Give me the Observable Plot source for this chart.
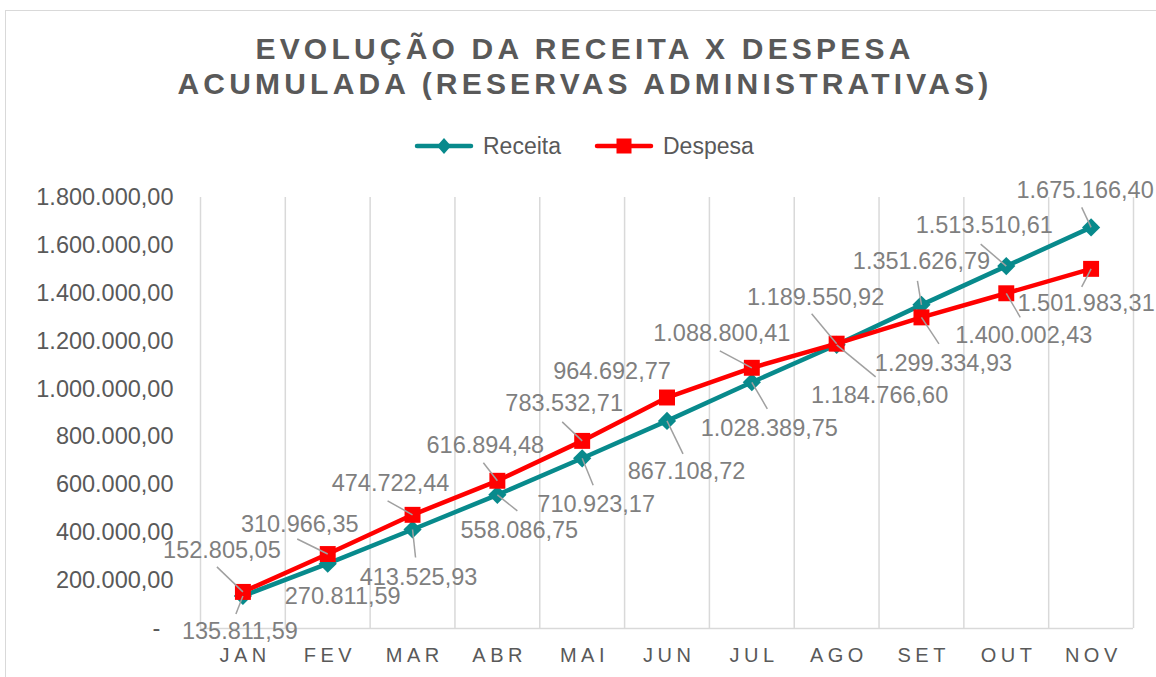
<!DOCTYPE html>
<html>
<head>
<meta charset="utf-8">
<script src="https://cdn.jsdelivr.net/npm/d3@7"></script>
<script src="https://cdn.jsdelivr.net/npm/@observablehq/plot@0.6"></script>
<style>
  html, body { margin: 0; padding: 0; background: #fff; }
  body { width: 1156px; height: 677px; position: relative; overflow: hidden; font-family: "Liberation Sans", Arial, sans-serif; }
  #frame { position: absolute; left: 5px; top: 10px; width: 1200px; height: 720px; border: 1.5px solid #d9d9d9; box-sizing: border-box; }
  #title { position: absolute; left: 0px; top: 31px; width: 1170px; text-align: center; font-weight: bold; font-size: 30px; line-height: 35px; letter-spacing: 4.2px; color: #595959; }
  #legend { position: absolute; left: 0; top: 125px; }
  #chart { position: absolute; left: 0; top: 170px; }
</style>
</head>
<body>
<div id="frame"></div>
<div id="title">EVOLUÇÃO DA RECEITA X DESPESA<br>ACUMULADA (RESERVAS ADMINISTRATIVAS)</div>
<div id="legend"></div>
<div id="chart"></div>
<script>
// ---- data ----
const months = ["JAN", "FEV", "MAR", "ABR", "MAI", "JUN", "JUL", "AGO", "SET", "OUT", "NOV"];
const receita = [135811.59, 270811.59, 413525.93, 558086.75, 710923.17, 867108.72, 1028389.75, 1184766.60, 1351626.79, 1513510.61, 1675166.40];
const despesa = [152805.05, 310966.35, 474722.44, 616894.48, 783532.71, 964692.77, 1088800.41, 1189550.92, 1299334.93, 1400002.43, 1501983.31];
const yTicks = [0, 200000, 400000, 600000, 800000, 1000000, 1200000, 1400000, 1600000, 1800000];
const seriesNames = ["Receita", "Despesa"];

// ---- label placement (pixel offsets from each point) ----
const receitaLabelDx = [-3, 15, 6, 22, 14, 19.5, 17.5, 43, 0, -22, -6];
const receitaLabelDy = [35, 33, 48, 36, 46, 51, 46.5, 51, -43, -40.5, -37];
const receitaLeadDx  = [-7, null, 3, 20, 11, 16, 15.5, 39, -4, -25.6, -9.4];
const receitaLeadDy  = [18, null, 28, 16, 27, 33, 26.5, 32, -24, -22, -20];
const despesaLabelDx = [-21, -28, -22, -12, -18, -55, -30, -21, 22, 17.5, -5];
const despesaLabelDy = [-41, -30, -31, -35, -37, -26, -34, -46.5, 46.5, 42, 35];
const despesaLeadDx  = [-26, -30.5, -25, -14, -20, null, -32, -25, 17.5, 14, -9.4];
const despesaLeadDy  = [-25, -15, -14, -18, -19, null, -17, -30, 26.5, 24, 18];

// ---- styling ----
const teal = "#088a8c";
const red = "#ff0000";
const axisColor = "#595959";
const labelColor = "#7f7f7f";
const gridColor = "#d9d9d9";
const font = '"Liberation Sans", Arial, sans-serif';

const W = 1156, H = 507, mL = 200, mR = 23, mT = 27, mB = 49;
const yMax = yTicks[yTicks.length - 1];
const kx = (W - mL - mR) / months.length;   // px per category
const ky = (H - mT - mB) / yMax;            // px per unit

const ptBR = d3.formatLocale({decimal: ",", thousands: ".", grouping: [3], currency: ["R$", ""]});
const fmt = ptBR.format(",.2f");

const rows = months.map((m, i) => ({i, m, receita: receita[i], despesa: despesa[i]}));
const boundaries = d3.range(months.length + 1).map(i => i - 0.5);

function labelData(values, ldx, ldy) {
  return values.map((v, i) => ({i, v, x: i + ldx[i] / kx, y: v - ldy[i] / ky, text: fmt(v)}));
}
function leadData(values, ldx, ldy) {
  return values.map((v, i) => ({i, v, dx: ldx[i], dy: ldy[i]}))
    .filter(d => d.dx != null)
    .map(d => ({x1: d.i + d.dx / kx, y1: d.v - d.dy / ky, x2: d.i, y2: d.v}));
}

const chart = Plot.plot({
  width: W, height: H,
  marginLeft: mL, marginRight: mR, marginTop: mT, marginBottom: mB,
  style: {fontFamily: font, color: axisColor, background: "transparent", overflow: "visible"},
  x: {domain: [-0.5, months.length - 0.5]},
  y: {domain: [0, yMax]},
  marks: [
    Plot.ruleX(boundaries, {stroke: gridColor, strokeWidth: 1.5}),
    Plot.ruleY([0], {stroke: gridColor, strokeWidth: 1.5}),
    Plot.axisY({ticks: yTicks, tickSize: 0, tickPadding: 27, fontSize: 23.5,
      tickFormat: d => d === 0 ? "-\u00a0\u00a0" : fmt(d)}),
    Plot.axisX({ticks: d3.range(months.length), tickSize: 0, tickPadding: 19, fontSize: 20,
      tickFormat: i => months[i]}),
    Plot.lineY(rows, {x: "i", y: "receita", stroke: teal, strokeWidth: 4.5}),
    Plot.dot(rows, {x: "i", y: "receita", symbol: "diamond2", r: 8.2, fill: teal}),
    Plot.lineY(rows, {x: "i", y: "despesa", stroke: red, strokeWidth: 4.5}),
    Plot.dot(rows, {x: "i", y: "despesa", symbol: "square", r: 9, fill: red}),
    Plot.link(leadData(receita, receitaLeadDx, receitaLeadDy), {x1: "x1", y1: "y1", x2: "x2", y2: "y2", stroke: "#a0a0a0", strokeWidth: 1.5}),
    Plot.link(leadData(despesa, despesaLeadDx, despesaLeadDy), {x1: "x1", y1: "y1", x2: "x2", y2: "y2", stroke: "#a0a0a0", strokeWidth: 1.5}),
    Plot.text(labelData(receita, receitaLabelDx, receitaLabelDy), {x: "x", y: "y", text: "text", fill: labelColor, fontSize: 23.5, textAnchor: "middle", lineAnchor: "middle"}),
    Plot.text(labelData(despesa, despesaLabelDx, despesaLabelDy), {x: "x", y: "y", text: "text", fill: labelColor, fontSize: 23.5, textAnchor: "middle", lineAnchor: "middle"})
  ]
});
document.getElementById("chart").appendChild(chart);

// letter-spaced month labels
d3.select(chart).selectAll('g[aria-label="x-axis tick label"] text')
  .style("letter-spacing", "4.5px")
  .attr("dx", 2.25);

// ---- legend ----
const leg = d3.select("#legend").append("svg").attr("width", W).attr("height", 42)
  .style("font-family", font);
const items = [
  {name: seriesNames[0], color: teal, x: 417, textX: 483, shape: "diamond"},
  {name: seriesNames[1], color: red, x: 597, textX: 663, shape: "square"}
];
items.forEach(it => {
  const cy = 21;
  leg.append("line").attr("x1", it.x).attr("x2", it.x + 54).attr("y1", cy).attr("y2", cy)
    .attr("stroke", it.color).attr("stroke-width", 4.5).attr("stroke-linecap", "round");
  const cx = it.x + 27;
  if (it.shape === "diamond") {
    leg.append("path").attr("d", `M${cx},${cy - 8}L${cx + 7},${cy}L${cx},${cy + 8}L${cx - 7},${cy}Z`).attr("fill", it.color);
  } else {
    leg.append("rect").attr("x", cx - 7.5).attr("y", cy - 7.5).attr("width", 15).attr("height", 15).attr("fill", it.color);
  }
  leg.append("text").attr("x", it.textX).attr("y", cy).attr("dy", "0.35em")
    .attr("font-size", 23).attr("fill", axisColor).text(it.name);
});
</script>
</body>
</html>
